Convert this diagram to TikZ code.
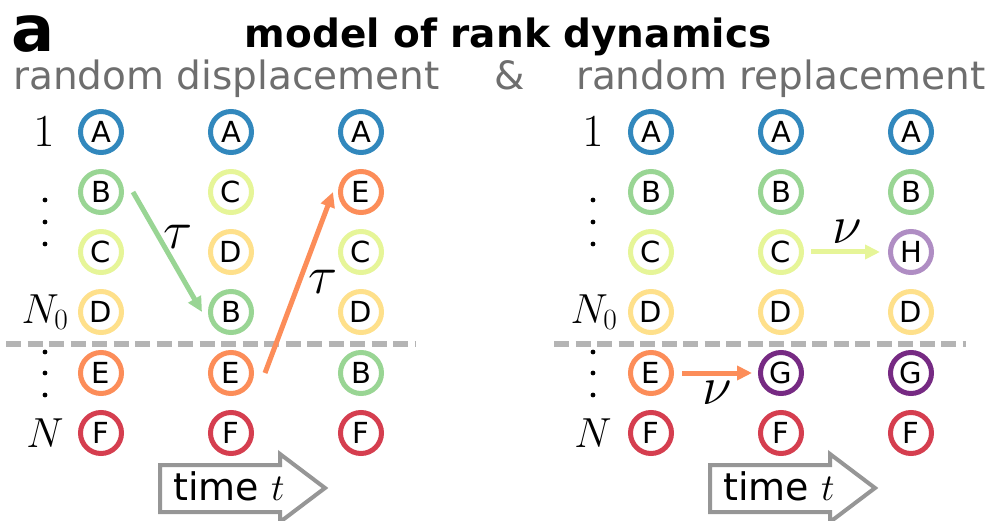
\RequirePackage{fix-cm}
\documentclass[tikz,border=0pt]{standalone}
\usepackage{fontspec}
\setmainfont{DejaVu Sans}
\usepackage{tikz}
\usetikzlibrary{arrows.meta}
\definecolor{rankA}{RGB}{50, 136, 189}
\definecolor{rankB}{RGB}{153, 213, 148}
\definecolor{rankC}{RGB}{230, 245, 152}
\definecolor{rankD}{RGB}{254, 224, 139}
\definecolor{rankE}{RGB}{252, 141, 89}
\definecolor{rankF}{RGB}{213, 62, 79}
\definecolor{rankG}{RGB}{118, 42, 131}
\definecolor{rankH}{RGB}{175, 141, 195}
\definecolor{subgray}{RGB}{110, 110, 110}
\definecolor{cutgray}{RGB}{180, 180, 180}
\definecolor{boxgray}{RGB}{150, 150, 150}
\newcommand{\fsize}[1]{\fontsize{#1}{#1}\selectfont}

\begin{document}
\begin{tikzpicture}[
    x=1pt, y=-1pt,
    species/.style={circle, draw=#1, line width=5pt, minimum size=41pt, inner sep=0pt, fill=white, font=\fsize{29}},
    ranklabel/.style={inner sep=0pt, font=\fsize{42}},
    ratelabel/.style={inner sep=0pt, font=\fsize{54}},
    subtitle/.style={inner sep=0pt, text=subgray, font=\fsize{39}},
    move/.style={-{Triangle[length=15pt, width=14pt]}, line width=5pt, draw=#1},
    cutline/.style={draw=cutgray, line width=5pt, dash pattern=on 15pt off 6.5pt},
    timearrow/.style={draw=boxgray, fill=white, line width=4pt, line join=miter},
    rankdot/.style={fill=black}
]
    \useasboundingbox (0,0) rectangle (988,521);

    % Headings
    \node[inner sep=0pt, anchor=base west, font=\fsize{64}\bfseries] (panel) at (11,52) {a};
    \node[inner sep=0pt, anchor=base, font=\fsize{39}\bfseries] (title) at (508,48) {model of rank dynamics};
    \node[subtitle, anchor=base west] (displ) at (13,90) {random displacement};
    \node[subtitle, anchor=base] (amp) at (510,90) {\&};
    \node[subtitle, anchor=base east] (repl) at (986,90) {random replacement};

    % Rank labels
    \node[ranklabel, font=\fsize{46}] (lone) at (44,132) {$1$};
    \node[ranklabel] (lnzero) at (45,312) {$N_0$};
    \node[ranklabel] (lnmax) at (45,433) {$N$};
    \node[ranklabel, font=\fsize{46}] (rone) at (593,132) {$1$};
    \node[ranklabel] (rnzero) at (594,312) {$N_0$};
    \node[ranklabel] (rnmax) at (593,433) {$N$};
    \fill[rankdot] (45,200) circle (2.4) (45,222) circle (2.4) (45,244) circle (2.4);
    \fill[rankdot] (45,352) circle (2.4) (45,373) circle (2.4) (45,395) circle (2.4);
    \fill[rankdot] (593,200) circle (2.4) (593,222) circle (2.4) (593,244) circle (2.4);
    \fill[rankdot] (593,352) circle (2.4) (593,373) circle (2.4) (593,395) circle (2.4);

    % Cut-off lines
    \draw[cutline] (6,344) -- (416,344);
    \draw[cutline] (554,344) -- (966,344);

    % Random displacement
    \node[species=rankA] (da1) at (101,132) {A};
    \node[species=rankA] (da2) at (231,132) {A};
    \node[species=rankA] (da3) at (361,132) {A};
    \node[species=rankB] (db1) at (101,192) {B};
    \node[species=rankC] (dc2) at (231,192) {C};
    \node[species=rankE] (de3) at (361,192) {E};
    \node[species=rankC] (dc1) at (101,252) {C};
    \node[species=rankD] (dd2) at (231,252) {D};
    \node[species=rankC] (dc3) at (361,252) {C};
    \node[species=rankD] (dd1) at (101,312) {D};
    \node[species=rankB] (db2) at (231,312) {B};
    \node[species=rankD] (dd3) at (361,312) {D};
    \node[species=rankE] (de1) at (101,373) {E};
    \node[species=rankE] (de2) at (231,373) {E};
    \node[species=rankB] (db3) at (361,373) {B};
    \node[species=rankF] (df1) at (101,433) {F};
    \node[species=rankF] (df2) at (231,433) {F};
    \node[species=rankF] (df3) at (361,433) {F};

    % Random replacement
    \node[species=rankA] (ra1) at (651,132) {A};
    \node[species=rankA] (ra2) at (781,132) {A};
    \node[species=rankA] (ra3) at (911,132) {A};
    \node[species=rankB] (rb1) at (651,192) {B};
    \node[species=rankB] (rb2) at (781,192) {B};
    \node[species=rankB] (rb3) at (911,192) {B};
    \node[species=rankC] (rc1) at (651,252) {C};
    \node[species=rankC] (rc2) at (781,252) {C};
    \node[species=rankH] (rh3) at (911,252) {H};
    \node[species=rankD] (rd1) at (651,312) {D};
    \node[species=rankD] (rd2) at (781,312) {D};
    \node[species=rankD] (rd3) at (911,312) {D};
    \node[species=rankE] (re1) at (651,373) {E};
    \node[species=rankG] (rg2) at (781,373) {G};
    \node[species=rankG] (rg3) at (911,373) {G};
    \node[species=rankF] (rf1) at (651,433) {F};
    \node[species=rankF] (rf2) at (781,433) {F};
    \node[species=rankF] (rf3) at (911,433) {F};

    % Moves
    \draw[move=rankB] ([xshift=9pt]db1.east) -- ([xshift=-6pt]db2.west);
    \draw[move=rankE] ([xshift=11pt]de2.east) -- ([xshift=-5pt]de3.west);
    \draw[move=rankC] ([xshift=7pt]rc2.east) -- ([xshift=-8pt]rh3.west);
    \draw[move=rankE] ([xshift=8pt]re1.east) -- ([xshift=-6pt]rg2.west);
    \node[ratelabel] (taub) at (178,237) {$\tau$};
    \node[ratelabel] (taue) at (323,282) {$\tau$};
    \node[ratelabel] (nuc) at (847,232) {$\nu$};
    \node[ratelabel] (nue) at (717,393) {$\nu$};

    % Time arrows
    \draw[timearrow] (160,465) -- (280,465) -- (280,454) -- (325,488) -- (280,522) -- (280,512) -- (160,512) -- cycle;
    \node[inner sep=0pt, anchor=base west, font=\fsize{38}] (ltime) at (173,500) {time $t$};
    \draw[timearrow] (710,465) -- (830,465) -- (830,454) -- (875,488) -- (830,522) -- (830,512) -- (710,512) -- cycle;
    \node[inner sep=0pt, anchor=base west, font=\fsize{38}] (rtime) at (723,500) {time $t$};
\end{tikzpicture}
\end{document}
